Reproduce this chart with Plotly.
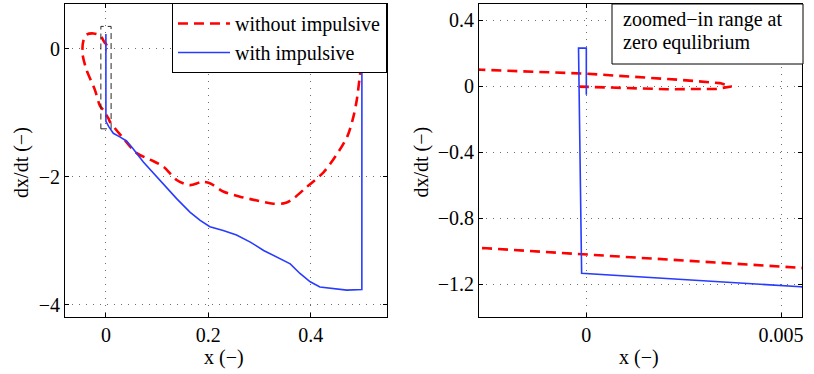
import plotly.graph_objects as go

# phase portrait data
x_without = [0.5, 0.498, 0.495, 0.490, 0.4835, 0.472, 0.455, 0.425, 0.392,
             0.366, 0.350, 0.327, 0.295, 0.262, 0.229, 0.203, 0.187, 0.164, 0.138, 0.112, 0.086,
             0.060, 0.034, 0.0078, 0.0055, 0.0, -0.00256, -0.0117, -0.0215, -0.038, -0.046,
             -0.044, -0.038, -0.0245, -0.0117, -0.0027, 0.0, 0.0024, 0.00343, 0.00373, 0.00334,
             0.00206, 0.00035, -0.00034]
dx_without = [0.0, -0.28, -0.49, -0.80, -1.06, -1.36, -1.60, -1.93, -2.16,
              -2.34, -2.41, -2.42, -2.37, -2.31, -2.23, -2.10, -2.08, -2.13, -2.05, -1.84, -1.73,
              -1.63, -1.40, -1.14, -1.10, -1.022, -0.982, -0.89, -0.645, -0.33, -0.07,
              0.13, 0.22, 0.24, 0.21, 0.099, 0.075, 0.038, 0.018, -0.002, -0.017,
              -0.019, -0.009, -0.002]

x_with = [0.5, 0.4999, 0.4705, 0.435, 0.418, 0.399, 0.379, 0.360, 0.334, 0.308, 0.282, 0.255,
          0.229, 0.203, 0.184, 0.164, 0.138, 0.099, 0.073, 0.053, 0.040, 0.027, 0.0143, 0.0055,
          -0.00012, -0.0002, 0.0, 0.0]
dx_with = [0.0, -3.76, -3.77, -3.74, -3.72, -3.64, -3.51, -3.36, -3.26, -3.15, -3.02, -2.91,
           -2.84, -2.78, -2.68, -2.55, -2.34, -2.0, -1.77, -1.56, -1.44, -1.375, -1.32, -1.215,
           -1.133, 0.23, 0.23, -0.053]

# zoom window marked on the left panel
zoom_box_x = [-0.01, 0.01]
zoom_box_y = [-1.25, 0.35]

left_xticks = [0, 0.2, 0.4]
left_xlabels = ['0', '0.2', '0.4']
left_yticks = [0, -2, -4]
left_ylabels = ['0', '\u22122', '\u22124']
right_xticks = [0, 0.005]
right_xlabels = ['0', '0.005']
right_yticks = [0.4, 0, -0.4, -0.8, -1.2]
right_ylabels = ['0.4', '0', '\u22120.4', '\u22120.8', '\u22121.2']

RED = 'rgb(255,0,0)'
BLUE = 'rgb(40,60,255)'
FONT = '"Liberation Serif", "Times New Roman", serif'

fig = go.Figure()
# left panel: full trajectories
fig.add_trace(go.Scatter(x=x_without, y=dx_without, mode='lines', name='without impulsive',
                         line=dict(color=RED, width=2.6, dash='10px,6px', shape='spline',
                                   smoothing=0.8),
                         xaxis='x', yaxis='y'))
fig.add_trace(go.Scatter(x=x_with, y=dx_with, mode='lines', name='with impulsive',
                         line=dict(color=BLUE, width=1.6), xaxis='x', yaxis='y'))
# right panel: same data, zoomed in around the origin
fig.add_trace(go.Scatter(x=x_without, y=dx_without, mode='lines', showlegend=False,
                         line=dict(color=RED, width=2.6, dash='10px,6px'),
                         xaxis='x2', yaxis='y2'))
fig.add_trace(go.Scatter(x=x_with, y=dx_with, mode='lines', showlegend=False,
                         line=dict(color=BLUE, width=1.6), xaxis='x2', yaxis='y2'))

fig.add_shape(type='rect', xref='x', yref='y',
              x0=zoom_box_x[0], x1=zoom_box_x[1], y0=zoom_box_y[0], y1=zoom_box_y[1],
              line=dict(color='rgb(40,40,40)', width=1, dash='6px,4px'))

axis_common = dict(showline=True, linecolor='black', linewidth=1, mirror='ticks',
                   ticks='inside', ticklen=4, tickcolor='black', showgrid=True,
                   gridcolor='rgb(110,110,110)', griddash='1px,6px', gridwidth=1,
                   zeroline=False, tickfont=dict(size=20, color='black', family=FONT))

fig.update_layout(
    width=814, height=374,
    margin=dict(l=0, r=0, t=0, b=0),
    paper_bgcolor='white', plot_bgcolor='white',
    font=dict(family=FONT, size=20, color='black'),
    xaxis=dict(domain=[0.0799, 0.4754], range=[-0.08, 0.549], tickvals=left_xticks,
               ticktext=left_xlabels, anchor='y', **axis_common),
    yaxis=dict(domain=[0.1524, 0.9893], range=[-4.19, 0.70], tickvals=left_yticks,
               ticktext=left_ylabels, anchor='x', **axis_common),
    xaxis2=dict(domain=[0.5885, 0.9853], range=[-0.002755, 0.00554], tickvals=right_xticks,
                ticktext=right_xlabels, anchor='y2', **axis_common),
    yaxis2=dict(domain=[0.1524, 0.9893], range=[-1.398, 0.497], tickvals=right_yticks,
                ticktext=right_ylabels, anchor='x2', **axis_common),
    legend=dict(x=0.4754, y=0.992, xanchor='right', yanchor='top',
                bgcolor='white', bordercolor='black', borderwidth=1, itemwidth=52,
                font=dict(size=20, family=FONT), tracegroupgap=0),
    showlegend=True,
)

annotations = [
    dict(text='x (\u2212)', x=0.2748, y=0.0428, xanchor='center'),
    dict(text='x (\u2212)', x=0.785, y=0.0428, xanchor='center'),
    dict(text='dx/dt (\u2212)', x=0.027, y=0.567, textangle=-90, xanchor='center'),
    dict(text='dx/dt (\u2212)', x=0.518, y=0.567, textangle=-90, xanchor='center'),
    dict(text='zoomed\u2212in range at', x=621 / 814, y=1 - 20 / 374, xanchor='left'),
    dict(text='zero equlibrium', x=621 / 814, y=1 - 42 / 374, xanchor='left'),
]

# box behind the note on the right panel
fig.add_shape(type='rect', xref='paper', yref='paper', layer='above',
              x0=612 / 814, x1=803 / 814, y0=1 - 64 / 374, y1=1 - 4 / 374,
              fillcolor='white', line=dict(color='black', width=1))

for a in annotations:
    fig.add_annotation(xref='paper', yref='paper', showarrow=False, yanchor='middle',
                       font=dict(size=20, family=FONT, color='black'), **a)

# drop the default page margin so the figure sits at the window's top-left corner
fig.write_html("out.html", config={'displayModeBar': False},
               post_script="document.body.style.margin='0';")
